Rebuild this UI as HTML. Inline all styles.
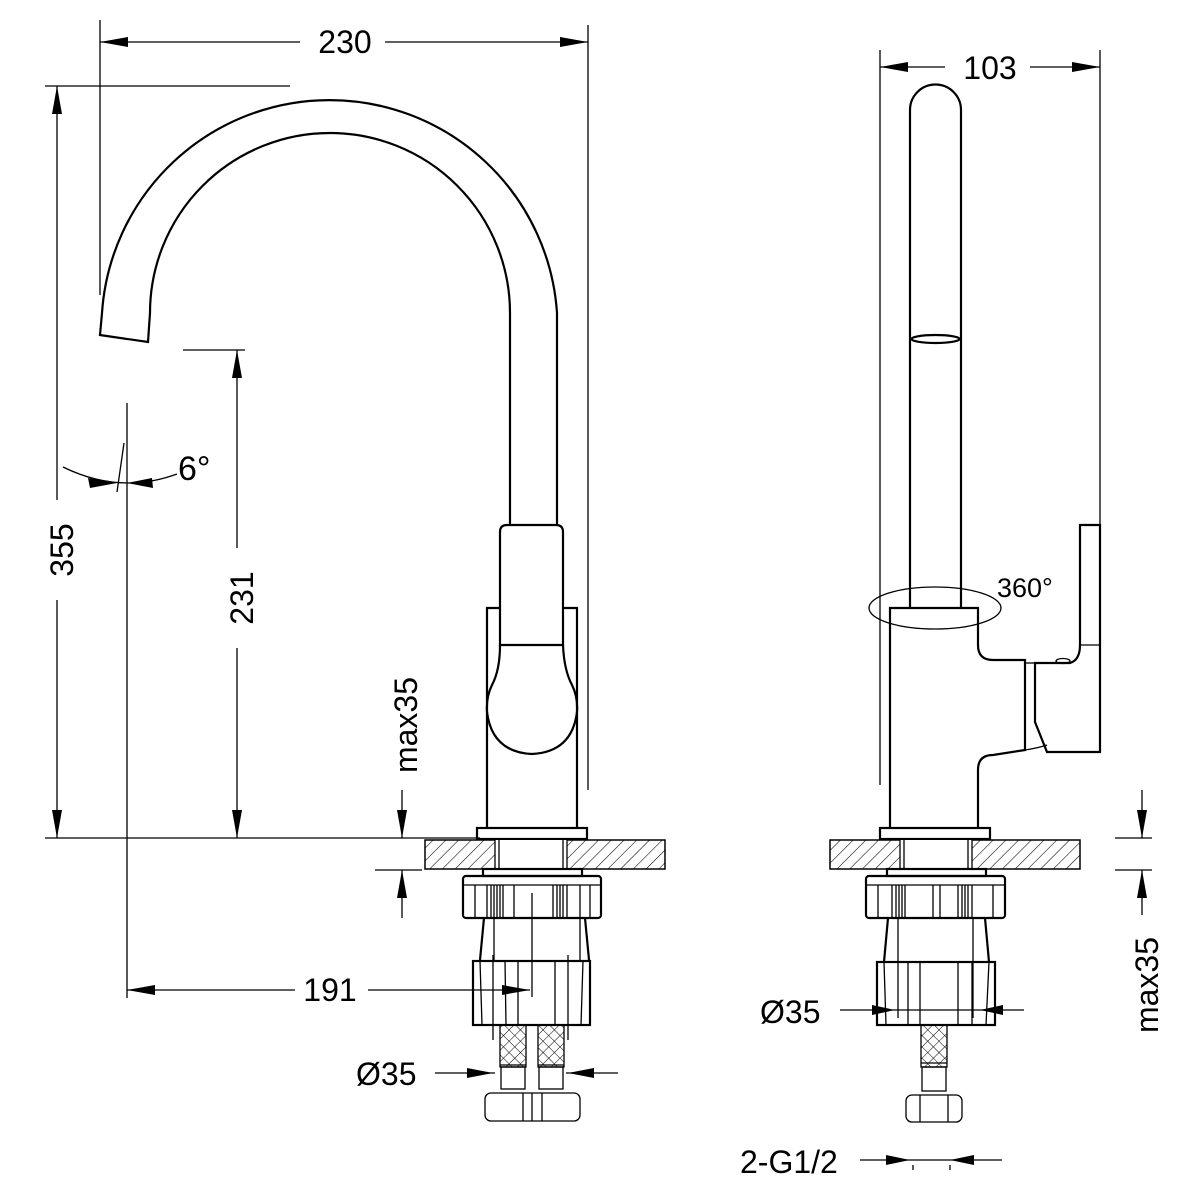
<!DOCTYPE html>
<html><head><meta charset="utf-8"><style>
html,body{margin:0;padding:0;background:#fff;}
svg{display:block;}
text{font-family:"Liberation Sans",sans-serif;font-size:32px;fill:#000;}
.o{fill:none;stroke:#000;stroke-width:2.2;}
.t{fill:none;stroke:#000;stroke-width:1.3;}
.a{fill:#000;stroke:none;}
</style></head><body>
<svg width="1200" height="1200" viewBox="0 0 1200 1200" xmlns="http://www.w3.org/2000/svg">
<defs>
<pattern id="h" width="9" height="9" patternUnits="userSpaceOnUse" patternTransform="rotate(45)">
<line x1="0" y1="0" x2="0" y2="9" stroke="#000" stroke-width="1.1"/>
</pattern>
<pattern id="x" width="8" height="8" patternUnits="userSpaceOnUse" patternTransform="rotate(45)">
<line x1="0" y1="0" x2="0" y2="8" stroke="#000" stroke-width="1"/>
<line x1="0" y1="0" x2="8" y2="0" stroke="#000" stroke-width="1"/>
</pattern>
</defs>

<!-- ===== LEFT VIEW ===== -->
<line class="t" x1="100" y1="20" x2="100" y2="295"/>
<line class="t" x1="588" y1="25" x2="588" y2="790"/>
<line class="t" x1="100" y1="42" x2="300" y2="42"/>
<line class="t" x1="385" y1="42" x2="588" y2="42"/>
<polygon class="a" points="100,42 128,37 128,47"/>
<polygon class="a" points="588,42 560,37 560,47"/>
<text x="345" y="53" text-anchor="middle">230</text>

<line class="t" x1="45" y1="86" x2="290" y2="86"/>
<line class="t" x1="45" y1="838" x2="480" y2="838"/>
<line class="t" x1="57" y1="86" x2="57" y2="500"/>
<line class="t" x1="57" y1="600" x2="57" y2="838"/>
<polygon class="a" points="57,86 52,114 62,114"/>
<polygon class="a" points="57,838 52,810 62,810"/>
<text transform="translate(73,550) rotate(-90)" text-anchor="middle">355</text>

<line class="t" x1="183" y1="350" x2="245" y2="350"/>
<line class="t" x1="237" y1="350" x2="237" y2="548"/>
<line class="t" x1="237" y1="648" x2="237" y2="838"/>
<polygon class="a" points="237,350 232,378 242,378"/>
<polygon class="a" points="237,838 232,810 242,810"/>
<text transform="translate(253,598) rotate(-90)" text-anchor="middle">231</text>

<line class="t" x1="127" y1="403" x2="127" y2="998"/>
<line class="t" x1="117" y1="492" x2="124" y2="443"/>
<path class="t" d="M63,467 Q120,495 177,474"/>
<polygon class="a" points="117,483 88,478 90,488"/>
<polygon class="a" points="127,483 152,478 153,488"/>
<text x="178" y="480" style="font-size:34px">6°</text>

<line class="t" x1="127" y1="990" x2="295" y2="990"/>
<line class="t" x1="368" y1="990" x2="530" y2="990"/>
<polygon class="a" points="127,990 155,985 155,995"/>
<polygon class="a" points="530,990 502,985 502,995"/>
<text x="330" y="1001" text-anchor="middle">191</text>
<line class="t" x1="532" y1="893" x2="532" y2="997"/>

<line class="t" x1="402" y1="790" x2="402" y2="838"/>
<line class="t" x1="402" y1="870" x2="402" y2="918"/>
<line class="t" x1="375" y1="870" x2="422" y2="870"/>
<polygon class="a" points="402,838 397,810 407,810"/>
<polygon class="a" points="402,870 397,898 407,898"/>
<text transform="translate(417,725) rotate(-90)" text-anchor="middle">max35</text>

<path class="o" d="M510,525 L510,313 A180,180 0 0 0 150,313 L148,342 L100,335 L102,313 A228,228 0 0 1 557,313 L557,525"/>
<path class="o" d="M500,645 L500,532 Q500,525 507,525 L556,525 Q563,525 563,532 L563,645 Z"/>
<path class="o" d="M500,645 Q500,670 492,685 Q486,697 487,712 Q492,752 532,754 Q572,752 577,712 Q578,697 572,685 Q564,670 563,645"/>
<path class="o" d="M500,608 L487,608 L487,828 M563,608 L577,608 L577,828"/>
<rect class="o" x="477" y="828" width="110" height="11"/>

<rect x="425" y="840" width="240" height="29" fill="url(#h)" stroke="#000" stroke-width="1.5"/>
<rect x="495" y="840" width="72" height="29" fill="#fff" stroke="none"/>
<line class="t" x1="495" y1="840" x2="495" y2="869"/><line class="t" x1="499" y1="840" x2="499" y2="869"/>
<line class="t" x1="563" y1="840" x2="563" y2="869"/><line class="t" x1="567" y1="840" x2="567" y2="869"/>
<rect class="o" x="483" y="869" width="99" height="7"/>
<rect class="o" x="463" y="876" width="138" height="42" rx="3"/>
<line class="t" x1="463" y1="885" x2="601" y2="885"/>
<g class="t">
<line x1="475" y1="885" x2="475" y2="918"/><line x1="487" y1="885" x2="487" y2="918"/>
<line x1="491" y1="885" x2="491" y2="918"/><line x1="494" y1="885" x2="494" y2="918"/>
<line x1="497" y1="885" x2="497" y2="918"/><line x1="500" y1="885" x2="500" y2="918"/><line x1="503" y1="885" x2="503" y2="918"/>
<line x1="514" y1="885" x2="514" y2="918"/>
<line x1="553" y1="885" x2="553" y2="918"/><line x1="557" y1="885" x2="557" y2="918"/><line x1="560" y1="885" x2="560" y2="918"/>
<line x1="563" y1="885" x2="563" y2="918"/><line x1="567" y1="885" x2="567" y2="918"/>
<line x1="580" y1="885" x2="580" y2="918"/><line x1="590" y1="885" x2="590" y2="918"/>
</g>
<path class="o" d="M484,918 L480,960 M585,918 L589,960"/>
<line class="t" x1="494" y1="918" x2="494" y2="960"/>
<line class="t" x1="580" y1="918" x2="580" y2="960"/>
<rect class="o" x="473" y="961" width="117" height="64"/>
<g class="t">
<line x1="480" y1="961" x2="482" y2="1025"/><line x1="493" y1="955" x2="493" y2="1040"/>
<line x1="505" y1="961" x2="506" y2="1025"/><line x1="518" y1="961" x2="518" y2="1025"/>
<line x1="555" y1="961" x2="555" y2="1025"/><line x1="568" y1="955" x2="568" y2="1040"/>
<line x1="583" y1="961" x2="581" y2="1025"/>
</g>
<g class="t">
<rect x="500" y="1025" width="26" height="42" fill="url(#x)"/>
<rect x="538" y="1025" width="26" height="42" fill="url(#x)"/>
<line x1="500" y1="1065" x2="526" y2="1065"/><line x1="538" y1="1065" x2="564" y2="1065"/>
<rect x="501" y="1067" width="24" height="22"/><rect x="539" y="1067" width="24" height="22"/>
<rect x="485" y="1093" width="95" height="28" rx="6"/>
<line x1="523" y1="1093" x2="523" y2="1121"/><line x1="542" y1="1093" x2="542" y2="1121"/>
<line x1="532" y1="1093" x2="532" y2="1121"/>
</g>
<line class="t" x1="435" y1="1073" x2="495" y2="1073"/>
<line class="t" x1="566" y1="1073" x2="618" y2="1073"/>
<polygon class="a" points="493,1073 467,1068 467,1078"/>
<polygon class="a" points="568,1073 594,1068 594,1078"/>
<text x="356" y="1085">Ø35</text>

<!-- ===== RIGHT VIEW ===== -->
<line class="t" x1="880" y1="50" x2="880" y2="785"/>
<line class="t" x1="1100" y1="50" x2="1100" y2="525"/>
<line class="t" x1="880" y1="67" x2="945" y2="67"/>
<line class="t" x1="1030" y1="67" x2="1100" y2="67"/>
<polygon class="a" points="880,67 908,62 908,72"/>
<polygon class="a" points="1100,67 1072,62 1072,72"/>
<text x="990" y="79" text-anchor="middle">103</text>

<path class="o" d="M910,608 L910,110 A25.5,25.5 0 0 1 961,110 L961,608"/>
<ellipse cx="935.5" cy="339" rx="24" ry="4" class="o"/>
<path class="o" d="M890,828 L890,608 L978,608 L978,645 Q978,660 993,660 L1025,660 L1025,750 L993,755 Q978,755 978,770 L978,828"/>
<path class="o" d="M1080,645 L1080,525 L1100,525 L1100,752 L1047,752 L1035,722 L1035,663 L1070,663 Q1080,660 1080,645 Z"/>
<line class="t" x1="1080" y1="645" x2="1100" y2="645"/>
<line class="t" x1="1025" y1="663" x2="1035" y2="663"/>
<path class="t" d="M1025,750 Q1038,748 1047,745"/>
<ellipse class="t" cx="1063" cy="661" rx="7" ry="2.5"/>
<ellipse class="t" cx="935" cy="608" rx="66" ry="21"/>
<text x="997" y="597" style="font-size:27px">360°</text>
<rect class="o" x="880" y="828" width="110" height="11"/>

<rect x="830" y="840" width="250" height="29" fill="url(#h)" stroke="#000" stroke-width="1.5"/>
<rect x="900" y="840" width="72" height="29" fill="#fff" stroke="none"/>
<line class="t" x1="900" y1="840" x2="900" y2="869"/><line class="t" x1="904" y1="840" x2="904" y2="869"/>
<line class="t" x1="968" y1="840" x2="968" y2="869"/><line class="t" x1="972" y1="840" x2="972" y2="869"/>
<rect class="o" x="887" y="869" width="99" height="7"/>
<rect class="o" x="866" y="876" width="139" height="42" rx="3"/>
<line class="t" x1="866" y1="885" x2="1005" y2="885"/>
<g class="t">
<line x1="878" y1="885" x2="878" y2="918"/><line x1="892" y1="885" x2="892" y2="918"/>
<line x1="896" y1="885" x2="896" y2="918"/><line x1="899" y1="885" x2="899" y2="918"/>
<line x1="902" y1="885" x2="902" y2="918"/><line x1="905" y1="885" x2="905" y2="918"/>
<line x1="933" y1="885" x2="933" y2="918"/><line x1="940" y1="885" x2="940" y2="918"/>
<line x1="958" y1="885" x2="958" y2="918"/><line x1="962" y1="885" x2="962" y2="918"/><line x1="965" y1="885" x2="965" y2="918"/>
<line x1="968" y1="885" x2="968" y2="918"/><line x1="972" y1="885" x2="972" y2="918"/>
<line x1="993" y1="885" x2="993" y2="918"/>
</g>
<path class="o" d="M888,918 L884,962 M985,918 L989,962"/>
<line class="t" x1="898" y1="918" x2="898" y2="1018"/>
<line class="t" x1="973" y1="918" x2="973" y2="1018"/>
<rect class="o" x="877" y="962" width="118" height="63"/>
<g class="t">
<line x1="884" y1="962" x2="886" y2="1025"/><line x1="908" y1="962" x2="908" y2="1025"/>
<line x1="920" y1="962" x2="920" y2="1025"/><line x1="958" y1="962" x2="958" y2="1025"/>
<line x1="972" y1="962" x2="972" y2="1025"/><line x1="989" y1="962" x2="986" y2="1025"/>
</g>
<g class="t">
<rect x="921" y="1025" width="26" height="42" fill="url(#x)"/>
<line x1="921" y1="1063" x2="947" y2="1063"/>
<rect x="922" y="1067" width="24" height="24"/>
<rect x="906" y="1095" width="56" height="27" rx="6"/>
<line x1="920" y1="1095" x2="920" y2="1122"/><line x1="948" y1="1095" x2="948" y2="1122"/>
</g>
<line class="t" x1="840" y1="1010" x2="1024" y2="1010"/>
<polygon class="a" points="895,1010 872,1005 872,1015"/>
<polygon class="a" points="980,1010 1003,1005 1003,1015"/>
<text x="760" y="1023">Ø35</text>

<line class="t" x1="860" y1="1160" x2="1002" y2="1160"/>
<polygon class="a" points="910,1160 886,1155 886,1165"/>
<polygon class="a" points="950,1160 974,1155 974,1165"/>
<line class="t" x1="913" y1="1165" x2="913" y2="1170"/><line class="t" x1="950" y1="1165" x2="950" y2="1170"/>
<text x="740" y="1173">2-G1/2</text>

<line class="t" x1="1142" y1="790" x2="1142" y2="838"/>
<line class="t" x1="1142" y1="870" x2="1142" y2="915"/>
<line class="t" x1="1115" y1="838" x2="1152" y2="838"/>
<line class="t" x1="1115" y1="870" x2="1152" y2="870"/>
<polygon class="a" points="1142,838 1137,810 1147,810"/>
<polygon class="a" points="1142,870 1137,898 1147,898"/>
<text transform="translate(1158,985) rotate(-90)" text-anchor="middle">max35</text>
</svg>
</body></html>
